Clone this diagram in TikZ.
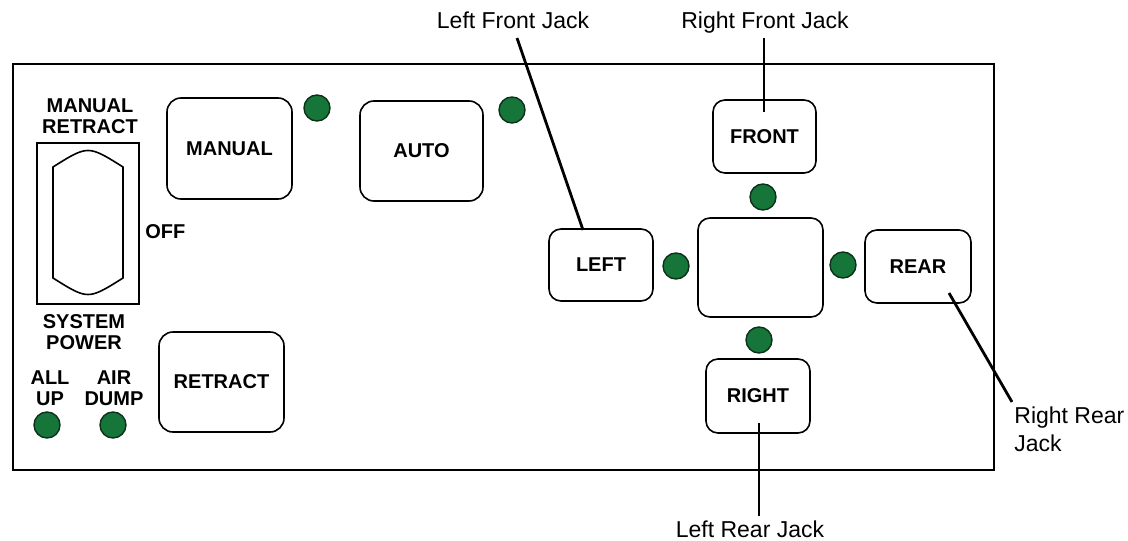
\documentclass[tikz,border=0pt]{standalone}
\usepackage{fontspec}
\setmainfont{Liberation Sans}
\usetikzlibrary{positioning,calc}
\definecolor{ledgreen}{RGB}{22,118,58}
\definecolor{ledrim}{RGB}{12,48,24}
\tikzset{
  btn/.style={draw=black,line width=0.8pt,rounded corners=7pt,fill=white,
    font=\fontsize{10}{12}\selectfont\bfseries,inner sep=0pt},
  led/.style={circle,draw=ledrim,fill=ledgreen,line width=0.7pt,minimum size=13pt,inner sep=0pt},
  tag/.style={font=\fontsize{10}{12}\selectfont\bfseries,align=center,inner sep=0pt},
  jack/.style={font=\fontsize{11.5}{14}\selectfont,inner sep=0pt},
  lead/.style={line width=1.4pt,black}
}
\begin{document}
\begin{tikzpicture}[x=0.5pt,y=-0.5pt]
       \useasboundingbox (0,0) rectangle (1128,540);

       % panel
       \draw[line width=1.1pt] (13,64) rectangle (994,470);

       % system power switch
       \draw[line width=0.9pt] (37,143) rectangle (139,304);
       \draw[line width=0.8pt] (53,167)
       .. controls (88,145) .. (123,167)
       -- (123,278)
       .. controls (88,300) .. (53,278) -- cycle;

       \node[tag] (mr) at (90,116) {MANUAL\\[-1.5pt]RETRACT};
       \node[tag,anchor=west] (off) at (145,232) {OFF};
       \node[tag] (sp) at (84,332) {SYSTEM\\[-1.5pt]POWER};
       \node[tag] (allup) at (50,388) {ALL\\[-1.5pt]UP};
       \node[tag] (airdump) at (114,388) {AIR\\[-1.5pt]DUMP};

       % buttons
       \node[btn,minimum width=62.5pt,minimum height=50.5pt] (manual) at (229.5,148.5) {MANUAL};
       \node[btn,minimum width=61.5pt,minimum height=50pt] (auto) at (421.5,151) {AUTO};
       \node[btn,minimum width=62.5pt,minimum height=50pt] (retract) at (221.5,382) {RETRACT};
       \node[btn,rounded corners=6pt,minimum width=51.5pt,minimum height=36.5pt] (front) at (764.5,136.5) {FRONT};
       \node[btn,rounded corners=6pt,minimum width=52pt,minimum height=36pt] (left) at (601,265) {LEFT};
       \node[btn,rounded corners=6pt,minimum width=62.5pt,minimum height=49.5pt] (level) at (760.5,267.5) {};
       \node[btn,rounded corners=6pt,minimum width=53pt,minimum height=36.5pt] (rear) at (918,266.5) {REAR};
       \node[btn,rounded corners=6pt,minimum width=52pt,minimum height=37pt] (right) at (758,396) {RIGHT};

       % lamps
       \node[led] (ledmanual) at (317,108) {};
       \node[led] (ledauto) at (512,110) {};
       \node[led] (ledfront) at (763,197) {};
       \node[led] (ledleft) at (676,266) {};
       \node[led] (ledrear) at (843,265) {};
       \node[led] (ledright) at (759,340) {};
       \node[led] (ledallup) at (47,425) {};
       \node[led] (ledairdump) at (113,425) {};

       % jack labels
       \node[jack] (lfj) at (513,20) {Left Front Jack};
       \node[jack] (rfj) at (765,23) {Right Front Jack};
       \node[jack] (lrj) at (750,529) {Left Rear Jack};
       \node[jack,align=left,anchor=west] (rrj) at (1014,429) {Right Rear\\Jack};

       \coordinate (lfjA) at (517,38);
       \coordinate (lfjB) at (583,230);
       \coordinate (rfjB) at (764,112);
       \coordinate (lrjA) at (759,516);
       \coordinate (lrjB) at (759,423);
       \coordinate (rrjA) at (1012,402);
       \coordinate (rrjB) at (949,293);

       \draw[lead] (lfjA) -- (lfjB);
       \draw[lead] (rfj.south -| rfjB) ++(0,4) -- (rfjB);
       \draw[lead] (lrjA) -- (lrjB);
       \draw[lead] (rrjA) -- (rrjB);
\end{tikzpicture}
\end{document}
